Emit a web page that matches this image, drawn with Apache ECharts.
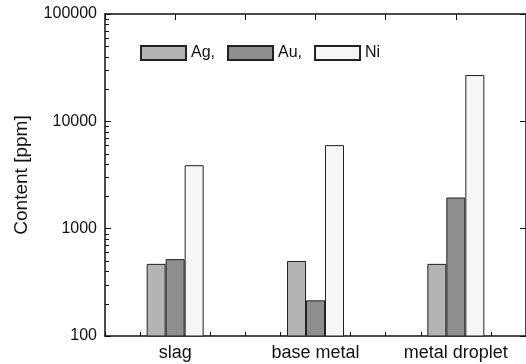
<!DOCTYPE html>
<html>
<head>
<meta charset="utf-8">
<script src="https://cdn.jsdelivr.net/npm/echarts@6/dist/echarts.min.js"></script>
<style>
html, body { margin: 0; padding: 0; background: #fff; }
#chart { width: 526px; height: 364px; }
</style>
</head>
<body>
<div id="chart"></div>
<script>
// values (ppm)
const categories = ['slag', 'base metal', 'metal droplet'];
const agValues = [470, 500, 470];
const auValues = [520, 215, 1950];
const niValues = [3900, 6000, 27000];
const yMin = 100;
const yMax = 100000;

const font = 'Liberation Sans, Arial, sans-serif';
const chart = echarts.init(document.getElementById('chart'));

function barSeries(name, data, color) {
    return {
        name: name,
        type: 'bar',
        data: data,
        barWidth: 19,
        barGap: '0%',
        itemStyle: { color: color, borderColor: '#222', borderWidth: 1 },
        emphasis: { disabled: true }
    };
}

chart.setOption({
    animation: false,
    backgroundColor: '#fff',
    grid: { left: 105, right: -2, top: 14, bottom: 28 },
    legend: {
        left: 135,
        top: 40,
        icon: 'rect',
        itemWidth: 45,
        itemHeight: 14,
        itemGap: 12,
        textStyle: { fontFamily: font, fontSize: 16, color: '#111' },
        data: ['Ag,', 'Au,', 'Ni']
    },
    xAxis: [{
        type: 'category',
        data: categories,
        axisLine: { show: true, lineStyle: { color: '#111', width: 1.5 } },
        axisTick: { show: false },
        axisLabel: { fontFamily: font, fontSize: 18, color: '#111', margin: 8 }
    }, {
        // quarter-band tick marks along the bottom
        type: 'category',
        position: 'bottom',
        data: Array(12).fill(''),
        axisLine: { show: false },
        axisTick: { show: true, inside: true, length: 4, lineStyle: { color: '#111', width: 1 } },
        axisLabel: { show: false }
    }, {
        // half-band tick marks along the top
        type: 'category',
        position: 'top',
        data: Array(6).fill(''),
        axisLine: { show: true, lineStyle: { color: '#111', width: 1.5 } },
        axisTick: { show: true, inside: true, length: 6, lineStyle: { color: '#111', width: 1 } },
        axisLabel: { show: false }
    }],
    yAxis: [{
        type: 'log',
        logBase: 10,
        min: yMin,
        max: yMax,
        name: 'Content [ppm]',
        nameLocation: 'middle',
        nameGap: 74,
        nameTextStyle: { fontFamily: font, fontSize: 19, color: '#111' },
        axisLine: { show: true, lineStyle: { color: '#111', width: 1.5 } },
        axisTick: { show: true, inside: true, length: 6, lineStyle: { color: '#111', width: 1 } },
        axisLabel: { fontFamily: font, fontSize: 16, color: '#111', margin: 8,
            formatter: function (v) { return String(Math.round(v)); } },
        splitLine: { show: false }
    }, {
        type: 'log',
        logBase: 10,
        min: yMin,
        max: yMax,
        position: 'right',
        axisLine: { show: true, lineStyle: { color: '#111', width: 1.5 } },
        axisTick: { show: true, inside: true, length: 6, lineStyle: { color: '#111', width: 1 } },
        axisLabel: { show: false },
        splitLine: { show: false }
    }],
    series: [
        barSeries('Ag,', agValues, '#b4b4b4'),
        barSeries('Au,', auValues, '#8e8e8e'),
        barSeries('Ni', niValues, '#f6f6f6')
    ]
});

// minor ticks at 2..9 of each decade on the left axis
const minor = [];
for (let d = yMin; d < yMax; d *= 10) {
    for (let k = 2; k <= 9; k++) {
        const y = Math.round(chart.convertToPixel({ yAxisIndex: 0 }, d * k)) + 0.5;
        minor.push({
            type: 'line',
            shape: { x1: 105, y1: y, x2: 109, y2: y },
            style: { stroke: '#111', lineWidth: 1 },
            silent: true,
            z: 10
        });
    }
}
chart.setOption({ graphic: minor });
</script>
</body>
</html>
